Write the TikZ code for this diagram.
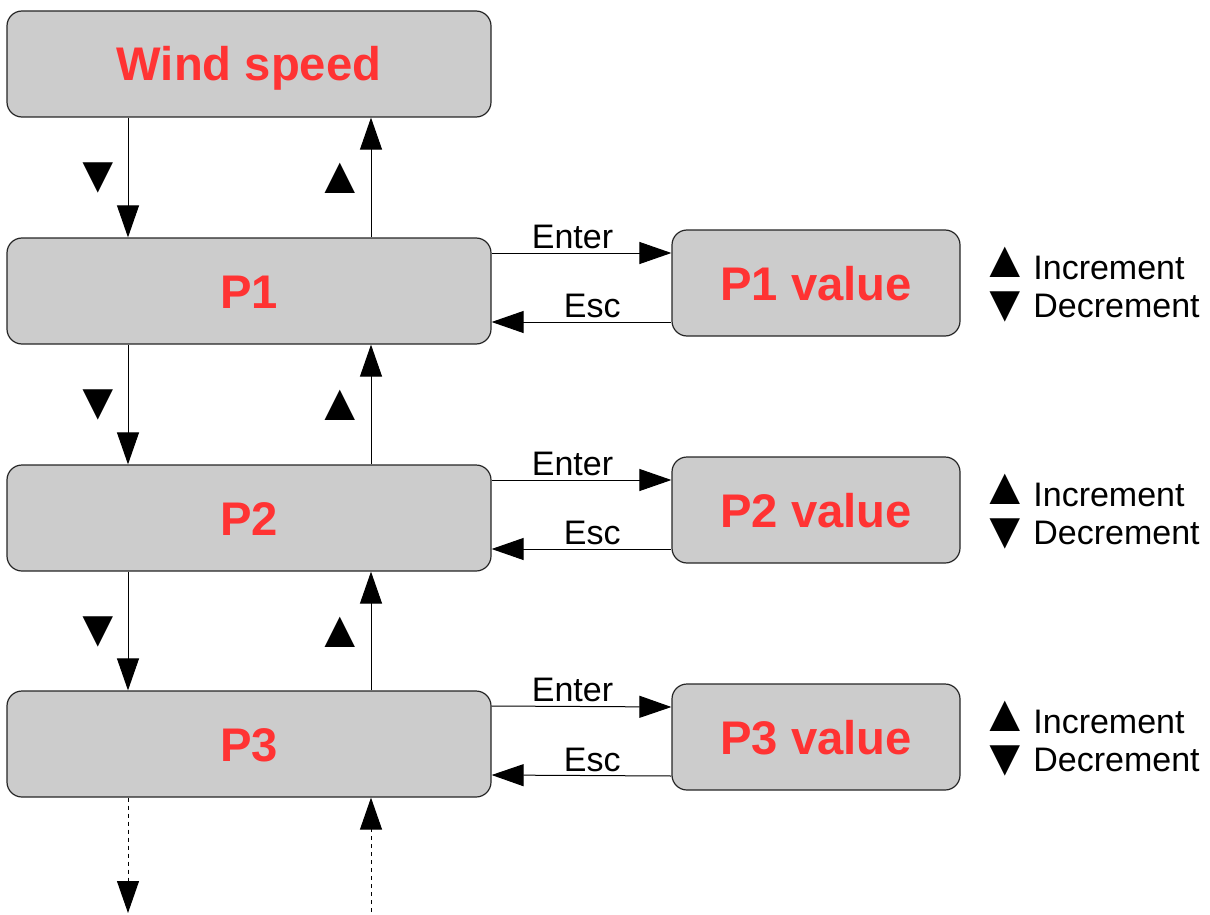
\documentclass[tikz,border=0pt]{standalone}
\usepackage{fontspec}
\setmainfont{Liberation Sans}
\usepackage{tikz}
\usetikzlibrary{arrows.meta,positioning}
\definecolor{lblred}{RGB}{255,51,51}
\definecolor{boxgray}{RGB}{204,204,204}
\tikzset{
	menu/.style={draw=black!85, fill=boxgray, rounded corners=7.5pt, line width=0.6pt,
		minimum width=242pt, minimum height=53pt, inner sep=0pt,
		text height=17pt, text depth=0pt,
		text=lblred, font=\bfseries\fontsize{23.6}{28}\selectfont},
	valbox/.style={menu, minimum width=144pt},
	arr/.style={-{Triangle[length=16pt,width=11pt]}, line width=0.5pt},
	key/.style={font=\fontsize{17}{20}\selectfont, inner sep=0pt, text height=12pt, text depth=0pt},
	tri/.style={font=\fontsize{26}{26}\selectfont, inner sep=0pt},
	more/.style={arr, dash pattern=on 2pt off 2pt}
}

\begin{document}
\begin{tikzpicture}[x=0.5pt, y=-0.5pt]
				\useasboundingbox (0, 0) rectangle (1210, 915);

				\node[menu] (wind) at (249, 64) {Wind speed};
				\node[menu] (p1) at (249, 291) {P1};
				\node[menu] (p2) at (249, 518) {P2};
				\node[menu] (p3) at (249, 744) {P3};
				\node[valbox] (p1val) at (816, 283) {P1 value};
				\node[valbox] (p2val) at (816, 510) {P2 value};
				\node[valbox] (p3val) at (816, 737) {P3 value};

				\node[tri] (down1) at (98, 178) {▼};
				\node[tri] (up1) at (340, 178) {▲};
				\node[tri] (down2) at (98, 405) {▼};
				\node[tri] (up2) at (340, 405) {▲};
				\node[tri] (down3) at (98, 632) {▼};
				\node[tri] (up3) at (340, 632) {▲};

				\node[tri] (inctri1) at (1005, 262) {▲};
				\node[tri] (dectri1) at (1005, 307) {▼};
				\node[key, anchor=west] (inc1) at (1033, 267) {Increment};
				\node[key, anchor=west] (dec1) at (1033, 305) {Decrement};
				\node[tri] (inctri2) at (1005, 489) {▲};
				\node[tri] (dectri2) at (1005, 534) {▼};
				\node[key, anchor=west] (inc2) at (1033, 494) {Increment};
				\node[key, anchor=west] (dec2) at (1033, 532) {Decrement};
				\node[tri] (inctri3) at (1005, 716) {▲};
				\node[tri] (dectri3) at (1005, 761) {▼};
				\node[key, anchor=west] (inc3) at (1033, 721) {Increment};
				\node[key, anchor=west] (dec3) at (1033, 759) {Decrement};

				\coordinate (moredown) at (128, 913);
				\coordinate (moreup) at (371, 912);

				\draw [arr] ([xshift=-60.5pt]wind.south) to ([xshift=-60.5pt]p1.north);
				\draw [arr] ([xshift=61pt]p1.north) to ([xshift=61pt]wind.south);
				\draw [arr] ([xshift=-60.5pt]p1.south) to ([xshift=-60.5pt]p2.north);
				\draw [arr] ([xshift=61pt]p2.north) to ([xshift=61pt]p1.south);
				\draw [arr] ([xshift=-60.5pt]p2.south) to ([xshift=-60.5pt]p3.north);
				\draw [arr] ([xshift=61pt]p3.north) to ([xshift=61pt]p2.south);
				\draw [more] ([xshift=-60.5pt]p3.south) to (moredown);
				\draw [more] (moreup) to ([xshift=61pt]p3.south);

				\draw [arr] ([yshift=19pt]p1.east) to node[key, above=2pt, pos=0.45] {Enter} ([yshift=15pt]p1val.west);
				\draw [arr] ([yshift=-19.5pt]p1val.west) to node[key, above=2pt, pos=0.44] {Esc} ([yshift=-15.5pt]p1.east);
				\draw [arr] ([yshift=19pt]p2.east) to node[key, above=2pt, pos=0.45] {Enter} ([yshift=15pt]p2val.west);
				\draw [arr] ([yshift=-19.5pt]p2val.west) to node[key, above=2pt, pos=0.44] {Esc} ([yshift=-15.5pt]p2.east);
				\draw [arr] ([yshift=19pt]p3.east) to node[key, above=2pt, pos=0.45] {Enter} ([yshift=15pt]p3val.west);
				\draw [arr] ([yshift=-19.5pt]p3val.west) to node[key, above=2pt, pos=0.44] {Esc} ([yshift=-15.5pt]p3.east);
		\end{tikzpicture}
\end{document}
